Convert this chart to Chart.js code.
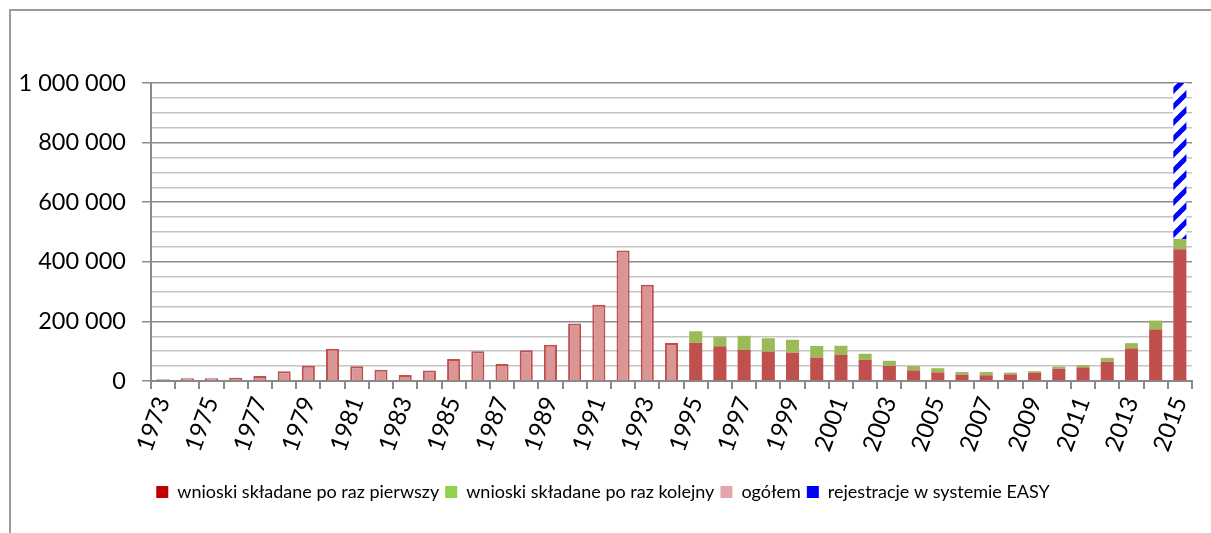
<!DOCTYPE html>
<html>
<head>
<meta charset="utf-8">
<script src="https://cdn.jsdelivr.net/npm/chart.js@4.4.1/dist/chart.umd.min.js"></script>
<style>
  html, body { margin: 0; padding: 0; background: #fff; }
  #wrap { position: relative; width: 1211px; height: 533px; overflow: hidden; }
  #frame { position: absolute; left: 9px; top: 9px; right: -4px; bottom: -4px;
           border-top: 2px solid #9a9a9a; border-left: 2px solid #9a9a9a; }
  canvas { position: absolute; left: 0; top: 0; }
</style>
</head>
<body>
<div id="wrap">
  <div id="frame"></div>
  <canvas id="chart" width="1211" height="533"></canvas>
</div>
<script>
// Wnioski o azyl, 1973-2015

var years = ["1973","1974","1975","1976","1977","1978","1979","1980","1981","1982",
             "1983","1984","1985","1986","1987","1988","1989","1990","1991","1992",
             "1993","1994","1995","1996","1997","1998","1999","2000","2001","2002",
             "2003","2004","2005","2006","2007","2008","2009","2010","2011","2012",
             "2013","2014","2015"];

// ogółem (1973-1994)
var total = [5595, 9424, 9627, 11123, 16410, 33136, 51493, 107818, 49391, 37423,
             19737, 35278, 73832, 99650, 57379, 103076, 121318, 193063, 256112, 438191,
             322599, 127210,
             null, null, null, null, null, null, null, null, null, null,
             null, null, null, null, null, null, null, null, null, null, null];

// wnioski składane po raz pierwszy (1995-2015)
var firstApps = [null, null, null, null, null, null, null, null, null, null, null,
                 null, null, null, null, null, null, null, null, null, null, null,
                 127937, 116367, 104353, 98644, 95113, 78564, 88287, 71127, 50563, 35607,
                 28914, 21029, 19164, 22085, 27649, 41332, 45741, 64539, 109580, 173072,
                 441899];

// wnioski składane po raz kolejny (1995-2015)
var nextApps = [null, null, null, null, null, null, null, null, null, null, null,
                null, null, null, null, null, null, null, null, null, null, null,
                39014, 32826, 47347, 44785, 43206, 39084, 30019, 20344, 17285, 14545,
                13994, 9071, 11139, 5933, 5384, 7257, 7606, 13112, 17443, 29762,
                34750];

// rejestracje w systemie EASY (2015, ponad wnioski)
var easy = [null, null, null, null, null, null, null, null, null, null, null,
            null, null, null, null, null, null, null, null, null, null, null,
            null, null, null, null, null, null, null, null, null, null, null,
            null, null, null, null, null, null, null, null, null, 615245];

var legendColors = ["#c00000", "#92d050", "#e6a5ac", "#0000ff"];

Chart.defaults.font.family = "Lato, 'Open Sans', sans-serif";
Chart.defaults.color = "#000";

function hatch() {
  var s = 16, c = document.createElement("canvas");
  c.width = s; c.height = s;
  var g = c.getContext("2d");
  g.fillStyle = "#fff";
  g.fillRect(0, 0, s, s);
  g.strokeStyle = "#0000ff";
  g.lineWidth = 5;
  g.beginPath();
  g.moveTo(0, s); g.lineTo(s, 0);
  g.moveTo(-2, 2); g.lineTo(2, -2);
  g.moveTo(s - 2, s + 2); g.lineTo(s + 2, s - 2);
  g.stroke();
  return g.createPattern(c, "repeat");
}

function fmt(v) {
  return String(v).replace(/\B(?=(\d{3})+(?!\d))/g, " ");
}

var bar = { stack: "a", barPercentage: 0.54, categoryPercentage: 1 };

new Chart(document.getElementById("chart"), {
  type: "bar",
  data: {
    labels: years,
    datasets: [
      Object.assign({ label: "wnioski składane po raz pierwszy", data: firstApps,
        backgroundColor: "#c0504d", borderWidth: 0 }, bar),
      Object.assign({ label: "wnioski składane po raz kolejny", data: nextApps,
        backgroundColor: "#9bbb59", borderWidth: 0 }, bar),
      Object.assign({ label: "ogółem", data: total,
        backgroundColor: "#d99694", borderColor: "#c0504d", borderWidth: 2 }, bar),
      Object.assign({ label: "rejestracje w systemie EASY", data: easy,
        backgroundColor: hatch(), borderWidth: 0 }, bar)
    ]
  },
  options: {
    responsive: false,
    animation: false,
    layout: { padding: { top: 83, left: 0, right: 5, bottom: 22 } },
    plugins: {
      tooltip: { enabled: false },
      legend: {
        position: "bottom",
        labels: {
          boxWidth: 12, boxHeight: 12, padding: 6,
          font: { size: 18 },
          generateLabels: function (chart) {
            return chart.data.datasets.map(function (ds, i) {
              return { text: ds.label, fillStyle: legendColors[i], strokeStyle: legendColors[i],
                       lineWidth: 0, datasetIndex: i, hidden: false };
            });
          }
        }
      }
    },
    scales: {
      x: {
        stacked: true,
        afterFit: function (s) { s.height = 96; },
        border: { color: "#8a8a8a", width: 2 },
        grid: { drawOnChartArea: false, drawTicks: true, tickLength: 8, color: "#8a8a8a", lineWidth: 2, offset: true },
        ticks: {
          autoSkip: false, minRotation: 70, maxRotation: 70, padding: 4,
          font: { size: 24 },
          callback: function (v, i) { return i % 2 === 0 ? years[i] : ""; }
        }
      },
      y: {
        stacked: true,
        min: 0, max: 1000000,
        afterFit: function (s) { s.width = 151; },
        border: { color: "#8a8a8a", width: 2 },
        grid: {
          tickLength: 9,
          lineWidth: 1.5,
          color: function (c) { return c.tick && c.tick.value % 200000 === 0 ? "#8c8c8c" : "#c4c4c4"; },
          tickColor: function (c) { return c.tick && c.tick.value % 200000 === 0 ? "#8c8c8c" : "rgba(0,0,0,0)"; }
        },
        ticks: {
          stepSize: 50000, padding: 16, autoSkip: false,
          font: { size: 23.5 },
          callback: function (v) { return v % 200000 === 0 ? fmt(v) : ""; }
        }
      }
    }
  }
});
</script>
</body>
</html>
